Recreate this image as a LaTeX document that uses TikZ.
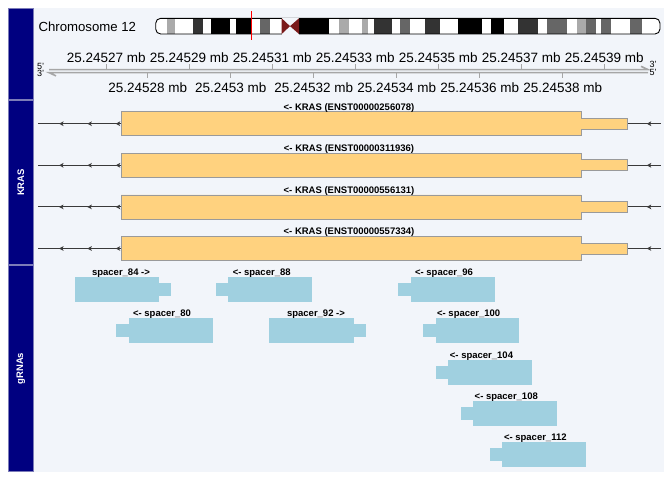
\documentclass[tikz,border=0pt]{standalone}
\usepackage{fontspec}
\setmainfont{Liberation Sans}
\definecolor{panelbg}{HTML}{F2F5FA}
\definecolor{navy}{HTML}{000080}
\definecolor{navyedge}{HTML}{7C7CB8}
\definecolor{genefill}{HTML}{FFD27F}
\definecolor{geneedge}{HTML}{9A9A9A}
\definecolor{grnafill}{HTML}{A0D0E0}
\definecolor{axisgray}{HTML}{A6A6A6}
\definecolor{lgray}{HTML}{AAAAAA}
\definecolor{mgray}{HTML}{666666}
\definecolor{dgray}{HTML}{333333}
\definecolor{cenred}{HTML}{7A1A1A}
\definecolor{intron}{HTML}{3A3A3A}
\definecolor{marker}{HTML}{FF0000}
\tikzset{
  navybar/.style={fill=navy, draw=navyedge, line width=0.8pt},
  tracktitle/.style={rotate=90, text=white, font=\fontsize{9.5}{11}\selectfont\bfseries, inner sep=0pt},
  ticklab/.style={anchor=base, inner sep=0pt, font=\fontsize{13.5}{15}\selectfont},
  endlab/.style={anchor=base west, inner sep=0pt, font=\fontsize{9}{10}\selectfont},
  featlab/.style={anchor=base, inner sep=0pt, font=\fontsize{9.5}{11}\selectfont\bfseries},
  axisline/.style={draw=axisgray, line width=1.6pt},
  genebox/.style={fill=genefill, draw=geneedge, line width=0.8pt},
  intronline/.style={draw=intron, line width=0.9pt},
  chev/.style={fill=intron},
}
\begin{document}
\begin{tikzpicture}[x=1pt,y=-1pt]
\useasboundingbox (0,0) rectangle (672,480);
\fill[white] (0,0) rectangle (672,480);
\fill[panelbg] (33.3,8) rectangle (664,471.5);
% track title bars
\draw[navybar] (8.3,8) rectangle (33.3,99.5);
\draw[navybar] (8.3,100.8) rectangle (33.3,264.3);
\draw[navybar] (8.3,265.8) rectangle (33.3,471.5);
\node[tracktitle] (tKRAS) at (20.8,182.5) {KRAS};
\node[tracktitle] (tgRNA) at (20.8,368.6) {gRNAs};
% chromosome label
\node[anchor=base west, inner sep=0pt, font=\fontsize{13.2}{15}\selectfont] (chr) at (38.3,31.5) {Chromosome 12};
% ideogram
\begin{scope}
\clip[rounded corners=5pt] (155.7,18.3) rectangle (660,34);
\fill[white] (155.7,18.3) rectangle (660,34);
\foreach \a/\b/\c in {167.3/175/lgray,193.3/202.7/dgray,211/230/black,235.7/251.7/black,260/270/mgray,
  299/329/black,339/349/lgray,362.3/368.3/lgray,374/392.3/dgray,400/410/mgray,425/440/dgray,
  458.3/481.7/black,490.7/504/black,518.3/538.3/dgray,546.7/566.7/mgray,576.7/586/lgray,
  586/596/mgray,601/610.7/mgray,630/642.3/mgray}
  {\fill[\c] (\a,18.3) rectangle (\b,34);}
\end{scope}
\draw[black, line width=0.9pt, rounded corners=5pt] (155.7,18.3) rectangle (660,34);
\fill[panelbg] (281.7,17.5) rectangle (299,34.8);
\fill[cenred] (281.7,18.3) -- (290,26.15) -- (281.7,34) -- cycle;
\fill[cenred] (299,18.3) -- (290,26.15) -- (299,34) -- cycle;
\fill[marker] (250.7,11) rectangle (251.9,40);
% axis
\coordinate (axL1) at (49,69.6);
\coordinate (axR1) at (648,69.6);
\coordinate (axL2) at (49,72.6);
\coordinate (axR2) at (648,72.6);
\draw[axisline] (axL1) -- (axR1) -- ++(-7,-3.3);
\draw[axisline] (axR2) -- (axL2) -- ++(7,3.3);
\node[endlab] (l5) at (37,69) {5'};
\node[endlab] (l3) at (37,76.5) {3'};
\node[endlab] (r3) at (649.5,67.5) {3'};
\node[endlab] (r5) at (649.5,75) {5'};
\foreach \x/\t in {106.3/25.24527,189.3/25.24529,272.3/25.24531,355.3/25.24533,438.3/25.24535,521.3/25.24537,604.3/25.24539}{
  \draw[axisgray, line width=1pt] (\x,64) -- (\x,69.6);
  \node[ticklab] at (\x,62.5) {\t{} mb};
}
\foreach \x/\t in {147.8/25.24528,230.8/25.2453,313.8/25.24532,396.8/25.24534,479.8/25.24536,562.8/25.24538}{
  \draw[axisgray, line width=1pt] (\x,72.6) -- (\x,78.2);
  \node[ticklab] at (\x,92) {\t{} mb};
}
% KRAS transcripts
\foreach \y/\id [count=\i] in {123.7/256078,165.3/311936,206.9/556131,248.5/557334}{
  \coordinate (gL\i) at (38,\y);
  \coordinate (gR\i) at (661,\y);
  \coordinate (gS\i) at (121,\y);
  \coordinate (gE\i) at (627,\y);
  \draw[intronline] (gL\i) -- (gS\i);
  \draw[intronline] (gE\i) -- (gR\i);
  \foreach \x in {59,87.3,115.7,646.7}{
    \fill[chev] (\x,\y) -- (\x+4.6,\y-2.4) -- (\x+3.4,\y) -- (\x+4.6,\y+2.4) -- cycle;
  }
  \draw[genebox] (121,\y-12) -- (581,\y-12) -- (581,\y-5.5) -- (627,\y-5.5) -- (627,\y+5.5) -- (581,\y+5.5) -- (581,\y+12) -- (121,\y+12) -- cycle;
  \node[featlab] (klab\i) at (349,\y-13.6) {<- KRAS (ENST00000\id)};
}
% gRNAs
\foreach \tl/\tr/\nl/\nr/\r/\lx/\txt [count=\i] in {
  75/158.7/158.7/171/0/121/{spacer\_84 ->},
  228.3/312/216/228.3/0/261.7/{<- spacer\_88},
  411/494.7/398.3/411/0/444/{<- spacer\_96},
  129/212.7/116/129/1/162/{<- spacer\_80},
  269.3/353.7/353.7/366/1/316/{spacer\_92 ->},
  436/519.3/423.3/436/1/468.7/{<- spacer\_100},
  448.3/532/435.7/448.3/2/481.5/{<- spacer\_104},
  473/556.7/460.7/473/3/506.3/{<- spacer\_108},
  502/586/489.7/502/4/535.3/{<- spacer\_112}}{
  \pgfmathsetmacro{\yc}{289.2+41.4*\r}
  \fill[grnafill] (\tl,\yc-12.5) rectangle (\tr,\yc+12.5);
  \fill[grnafill] (\nl,\yc-6.5) rectangle (\nr,\yc+6.5);
  \node[featlab] (glab\i) at (\lx,\yc-14) {\txt};
}
\end{tikzpicture}
\end{document}
